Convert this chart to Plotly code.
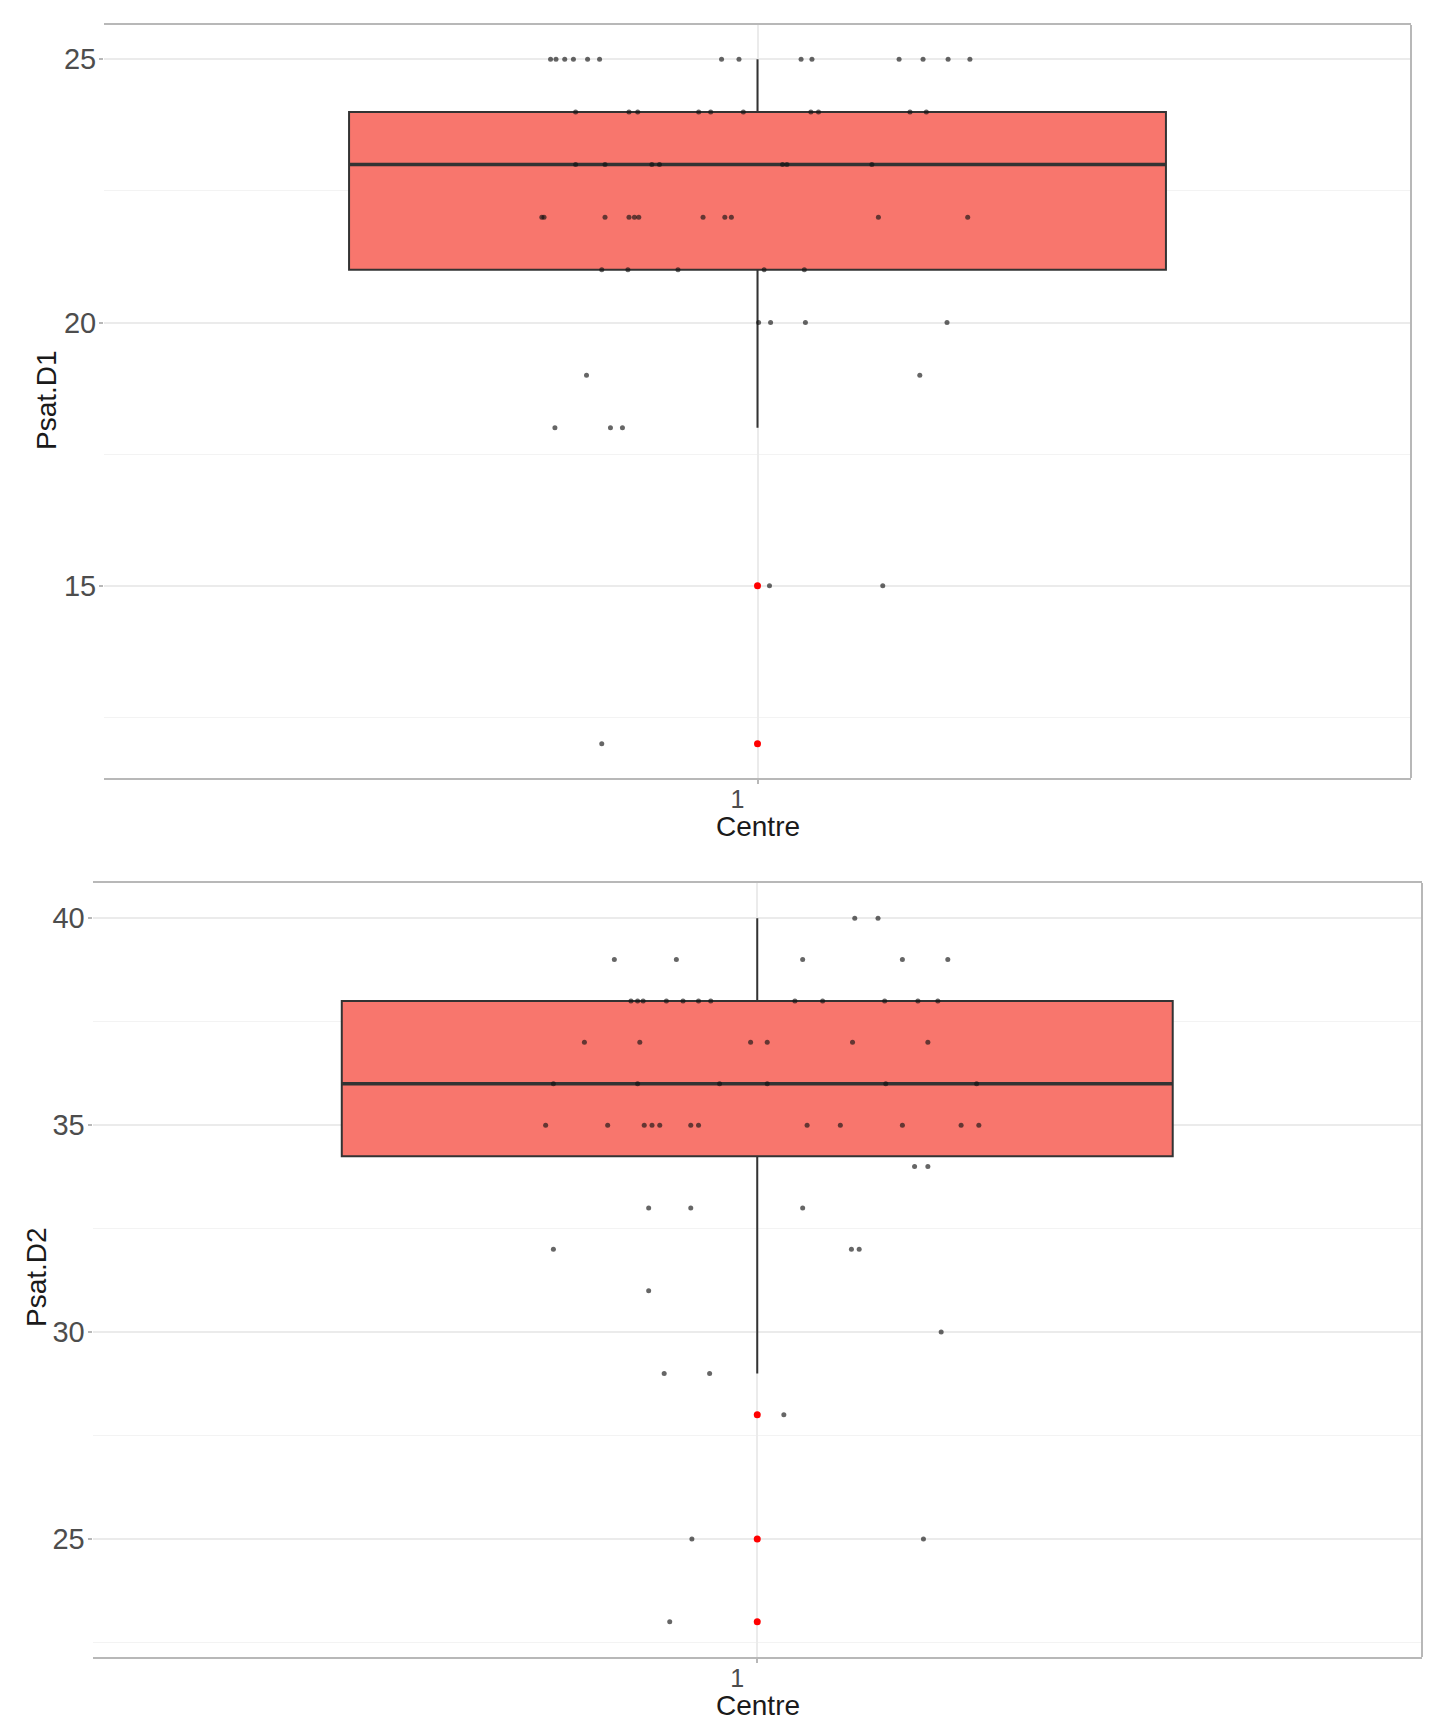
import plotly.graph_objects as go

# ---------------- data ----------------
category = ["1"]

# Panel 1: Psat.D1 - jittered observations (value, horizontal jitter offset)
d1_values = [25] * 14 + [24] * 10 + [23] * 7 + [22] * 11 + [21] * 5 + [20] * 4 + [19] * 2 + [18] * 3 + [15] * 2 + [12]
d1_jitter = [-0.190, -0.185, -0.177, -0.169, -0.156, -0.145, -0.033, -0.017, 0.040, 0.050, 0.130, 0.152, 0.175, 0.195,
             -0.167, -0.118, -0.110, -0.054, -0.043, -0.013, 0.049, 0.056, 0.140, 0.155,
             -0.167, -0.140, -0.097, -0.090, 0.023, 0.027, 0.105,
             -0.198, -0.196, -0.140, -0.118, -0.113, -0.109, -0.050, -0.030, -0.024, 0.111, 0.193,
             -0.143, -0.119, -0.073, 0.006, 0.043,
             0.001, 0.012, 0.044, 0.174,
             -0.157, 0.149,
             -0.186, -0.135, -0.124,
             0.011, 0.115,
             -0.143]
d1_q1 = [21]
d1_median = [23]
d1_q3 = [24]
d1_lower = [18]
d1_upper = [25]
d1_outliers = [15, 12]

# Panel 2: Psat.D2
d2_values = [40] * 2 + [39] * 5 + [38] * 12 + [37] * 6 + [36] * 6 + [35] * 12 + [34] * 2 + [33] * 3 + [32] * 3 + [31] + [30] + [29] * 2 + [28] + [25] * 2 + [23]
d2_jitter = [0.088, 0.109,
             -0.129, -0.073, 0.041, 0.131, 0.172,
             -0.114, -0.108, -0.103, -0.082, -0.067, -0.053, -0.042, 0.034, 0.059, 0.115, 0.145, 0.163,
             -0.156, -0.106, -0.006, 0.009, 0.086, 0.154,
             -0.184, -0.108, -0.034, 0.009, 0.116, 0.198,
             -0.191, -0.135, -0.102, -0.095, -0.088, -0.060, -0.053, 0.045, 0.075, 0.131, 0.184, 0.200,
             0.142, 0.154,
             -0.098, -0.060, 0.041,
             -0.184, 0.085, 0.092,
             -0.098,
             0.166,
             -0.084, -0.043,
             0.024,
             -0.059, 0.150,
             -0.079]
d2_q1 = [34.25]
d2_median = [36]
d2_q3 = [38]
d2_lower = [29]
d2_upper = [40]
d2_outliers = [28, 25, 23]

# ---------------- styling ----------------
FONT = "Liberation Sans, Arial, sans-serif"
BOX_FILL = "#F8766D"
BOX_LINE = "#333333"
GRID = "#ebebeb"
MINOR_GRID = "#f3f3f3"
BORDER = "#b8b8b8"
TICK_TXT = "#4d4d4d"
BOX_WIDTH = 0.75

fig = go.Figure()

panels = [
    dict(xa="x", ya="y", vals=d1_values, jit=d1_jitter, q1=d1_q1, med=d1_median, q3=d1_q3,
         lo=d1_lower, up=d1_upper, out=d1_outliers),
    dict(xa="x2", ya="y2", vals=d2_values, jit=d2_jitter, q1=d2_q1, med=d2_median, q3=d2_q3,
         lo=d2_lower, up=d2_upper, out=d2_outliers),
]

for p in panels:
    fig.add_trace(go.Box(
        x=[1], q1=p["q1"], median=p["med"], q3=p["q3"],
        lowerfence=p["lo"], upperfence=p["up"],
        width=BOX_WIDTH, whiskerwidth=0, boxpoints=False,
        fillcolor=BOX_FILL, line=dict(color=BOX_LINE, width=2),
        xaxis=p["xa"], yaxis=p["ya"], showlegend=False, hoverinfo="skip",
    ))
    # thicker median line (ggplot fatten)
    fig.add_trace(go.Scatter(
        x=[1 - BOX_WIDTH / 2, 1 + BOX_WIDTH / 2], y=p["med"] * 2, mode="lines",
        line=dict(color=BOX_LINE, width=3.5),
        xaxis=p["xa"], yaxis=p["ya"], showlegend=False, hoverinfo="skip",
    ))
    fig.add_trace(go.Scatter(
        x=[1] * len(p["out"]), y=p["out"], mode="markers",
        marker=dict(color="#ff0000", size=7),
        xaxis=p["xa"], yaxis=p["ya"], showlegend=False,
    ))
    fig.add_trace(go.Scatter(
        x=[1 + j for j in p["jit"]], y=p["vals"], mode="markers",
        marker=dict(color="rgba(20,20,20,0.65)", size=5),
        xaxis=p["xa"], yaxis=p["ya"], showlegend=False,
    ))

H = 1734.0
W = 1450.0

xcommon = dict(range=[0.4, 1.6], tickmode="array", tickvals=[1], ticktext=category,
               showgrid=True, gridcolor=GRID, gridwidth=1.5, zeroline=False,
               showline=True, linecolor=BORDER, linewidth=2, mirror=True,
               ticks="outside", ticklen=4, tickcolor=BORDER, tickwidth=1.5,
               ticklabelstandoff=-6, ticklabelshift=-20,
               tickfont=dict(family=FONT, size=25, color=TICK_TXT), automargin=False)
ycommon = dict(showgrid=True, gridcolor=GRID, gridwidth=1.5, zeroline=False,
               showline=False, ticks="outside", ticklen=4, tickcolor=BORDER, tickwidth=1.5,
               ticklabelstandoff=-3,
               tickfont=dict(family=FONT, size=29, color=TICK_TXT), automargin=False,
               dtick=5, tick0=0,
               minor=dict(dtick=2.5, tick0=0, showgrid=True, gridcolor=MINOR_GRID, gridwidth=1, ticks=""))

fig.update_layout(
    width=1450, height=1734,
    margin=dict(l=0, r=0, t=0, b=0),
    paper_bgcolor="white", plot_bgcolor="white",
    font=dict(family=FONT),
    xaxis=dict(domain=[104 / W, 1411 / W], anchor="y", **xcommon),
    yaxis=dict(domain=[1 - 778 / H, 1 - 25 / H], anchor="x", range=[11.35, 25.65], **ycommon),
    xaxis2=dict(domain=[92.5 / W, 1422 / W], anchor="y2", **xcommon),
    yaxis2=dict(domain=[1 - 1657 / H, 1 - 883 / H], anchor="x2", range=[22.15, 40.85], **ycommon),
    shapes=[
        dict(type="line", xref="x domain", yref="y domain", x0=1, x1=1, y0=0, y1=1,
             line=dict(color=BORDER, width=2)),
        dict(type="line", xref="x2 domain", yref="y2 domain", x0=1, x1=1, y0=0, y1=1,
             line=dict(color=BORDER, width=2)),
    ],
    annotations=[
        dict(text="Psat.D1", xref="paper", yref="paper", x=46 / W, y=1 - 400 / H, textangle=-90,
             showarrow=False, font=dict(family=FONT, size=28, color="#1a1a1a"),
             xanchor="center", yanchor="middle"),
        dict(text="Centre", xref="paper", yref="paper", x=757.5 / W, y=1 - 826 / H,
             showarrow=False, font=dict(family=FONT, size=28, color="#1a1a1a"),
             xanchor="center", yanchor="middle"),
        dict(text="Psat.D2", xref="paper", yref="paper", x=36 / W, y=1 - 1277 / H, textangle=-90,
             showarrow=False, font=dict(family=FONT, size=28, color="#1a1a1a"),
             xanchor="center", yanchor="middle"),
        dict(text="Centre", xref="paper", yref="paper", x=757.5 / W, y=1 - 1705 / H,
             showarrow=False, font=dict(family=FONT, size=28, color="#1a1a1a"),
             xanchor="center", yanchor="middle"),
    ],
)

fig.write_html("out.html")
